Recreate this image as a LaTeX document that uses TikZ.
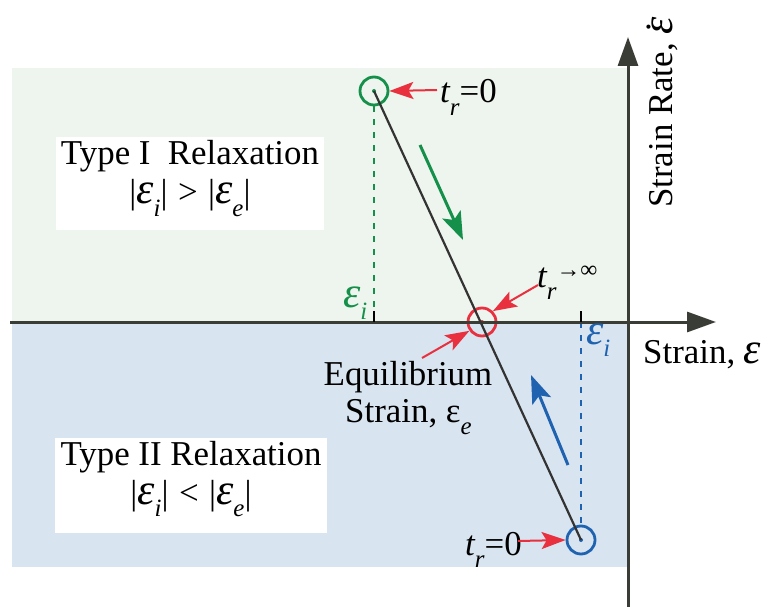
\documentclass[tikz,border=0pt]{standalone}
\usepackage{fontspec}
\setmainfont{Liberation Serif}
\usetikzlibrary{arrows.meta}
\definecolor{bggreen}{HTML}{EEF4EE}
\definecolor{bgblue}{HTML}{D8E4F0}
\definecolor{mgreen}{HTML}{15904A}
\definecolor{mblue}{HTML}{1F62B0}
\definecolor{mred}{HTML}{E8303F}
\definecolor{axisc}{HTML}{3A3D36}
\definecolor{linec}{HTML}{333333}
\newcommand{\ieps}{{\fontsize{44}{44}\selectfont\itshape ε}}
\newcommand{\lsub}[1]{\raisebox{-0.36em}{\fontsize{25}{25}\selectfont\itshape #1}}
\newcommand{\lsup}[1]{\raisebox{0.28em}{\fontsize{24}{24}\selectfont #1}}
\newcommand{\epsdot}{\ooalign{\ieps\cr\hidewidth\raisebox{0.62em}{.}\hspace{0.1em}\hidewidth\cr}}
\tikzset{
  lbl/.style={inner sep=0pt, font=\fontsize{35}{40}\selectfont, text=black},
  axisline/.style={draw=axisc, line width=3bp, -{Triangle[length=29bp,width=20bp]}},
  tick/.style={draw=black, line width=2bp},
  mark circle/.style={circle, draw=#1, line width=2.8bp, minimum size=28bp, inner sep=0pt},
  dot/.style={circle, fill=#1, minimum size=4bp, inner sep=0pt},
  dashline/.style={draw=#1, line width=1.4bp, dash pattern=on 6bp off 7bp},
  redarrow/.style={draw=mred, line width=2bp, -{Stealth[length=24bp,width=17bp,inset=5bp]}},
  bigarrow/.style={draw=#1, line width=3bp, -{Stealth[length=28bp,width=20bp,inset=6bp]}},
  whitebox/.style={fill=white, inner sep=0pt},
}
\begin{document}
\begin{tikzpicture}[x=1bp, y=-1bp]
\useasboundingbox (0,0) rectangle (770,607);
% backgrounds
\fill[bggreen] (12,68) rectangle (628,322);
\fill[bgblue] (12,322) rectangle (628,567);
% white boxes
\node[whitebox, minimum width=268bp, minimum height=93bp] (box1) at (190,183.5) {};
\node[whitebox, minimum width=272bp, minimum height=95bp] (box2) at (191,485.5) {};
% circles
\node[mark circle=mgreen] (cg) at (374,91) {};
\node[mark circle=mblue] (cb) at (581,540) {};
\node[mark circle=mred] (cr) at (482,322) {};
\node[dot=mgreen] (dg) at (cg.center) {};
\node[dot=mblue] (db) at (cb.center) {};
\node[dot=mred] (dr) at (cr.center) {};
% axis coordinates
\coordinate (xstart) at (10,322);
\coordinate (xend) at (716,322);
\coordinate (ystart) at (628,607);
\coordinate (yend) at (628,37);
\coordinate (tg) at (374,322);
\coordinate (tgtop) at (374,311);
\coordinate (tb) at (581,322);
\coordinate (tbtop) at (581,311);
% dashed lines
\draw[dashline=mgreen] (cg.south) -- (tg);
\draw[dashline=mblue] (tb) -- (cb.north);
% axes
\draw[axisline] (xstart) -- (xend);
\draw[axisline] (ystart) -- (yend);
\draw[tick] (tgtop) -- (tg);
\draw[tick] (tbtop) -- (tb);
% main line
\draw[linec, line width=2.2bp] (cg.center) -- (cb.center);
% direction arrows
\coordinate (ga1) at (420,145);
\coordinate (ga2) at (463,240);
\coordinate (ba1) at (568,465);
\coordinate (ba2) at (531,375);
\draw[bigarrow=mgreen] (ga1) -- (ga2);
\draw[bigarrow=mblue] (ba1) -- (ba2);
% labels
\node[lbl, anchor=base west] (tr0a) at (440,103) {{\itshape t}\lsub{r}=0};
\node[lbl, anchor=base west] (tr0b) at (465,555) {{\itshape t}\lsub{r}=0};
\node[lbl, anchor=base west] (trinf) at (537,287) {{\itshape t}\lsub{r}\lsup{→∞}};
\node[lbl, anchor=base, align=center] (eq1) at (408,385) {Equilibrium};
\node[lbl, anchor=base west] (eq2) at (345,422) {Strain, ε\lsub{e}};
\node[lbl, anchor=base west, text=mgreen] (eig) at (343,307) {\ieps\lsub{i}};
\node[lbl, anchor=base west, text=mblue] (eib) at (586,344) {\ieps\lsub{i}};
\node[lbl, anchor=base west] (xlab) at (643,363) {Strain, \ieps};
\node[lbl, anchor=base west, rotate=90] (ylab) at (672,208) {Strain Rate, \epsdot};
% box texts
\node[lbl, anchor=base] (t1a) at (box1.center |- 0,165) {Type I\ \ Relaxation};
\node[lbl, anchor=base] (t1b) at (box1.center |- 0,204) {|\ieps\lsub{i}|\hspace{0.3em}>\hspace{0.3em}|\ieps\lsub{e}|};
\node[lbl, anchor=base] (t2a) at (box2.center |- 0,465) {Type II Relaxation};
\node[lbl, anchor=base] (t2b) at (box2.center |- 0,504) {|\ieps\lsub{i}|\hspace{0.3em}<\hspace{0.3em}|\ieps\lsub{e}|};
% red pointer arrows
\coordinate (ra1) at (437,90);
\coordinate (ra2) at (518,541);
\coordinate (ra3) at (538,285);
\coordinate (ra4) at (422,358);
\draw[redarrow] (ra1) -- (cg.east);
\draw[redarrow] (ra2) -- (cb.west);
\draw[redarrow] (ra3) -- (cr.45);
\draw[redarrow] (ra4) -- (cr.215);
\end{tikzpicture}
\end{document}
